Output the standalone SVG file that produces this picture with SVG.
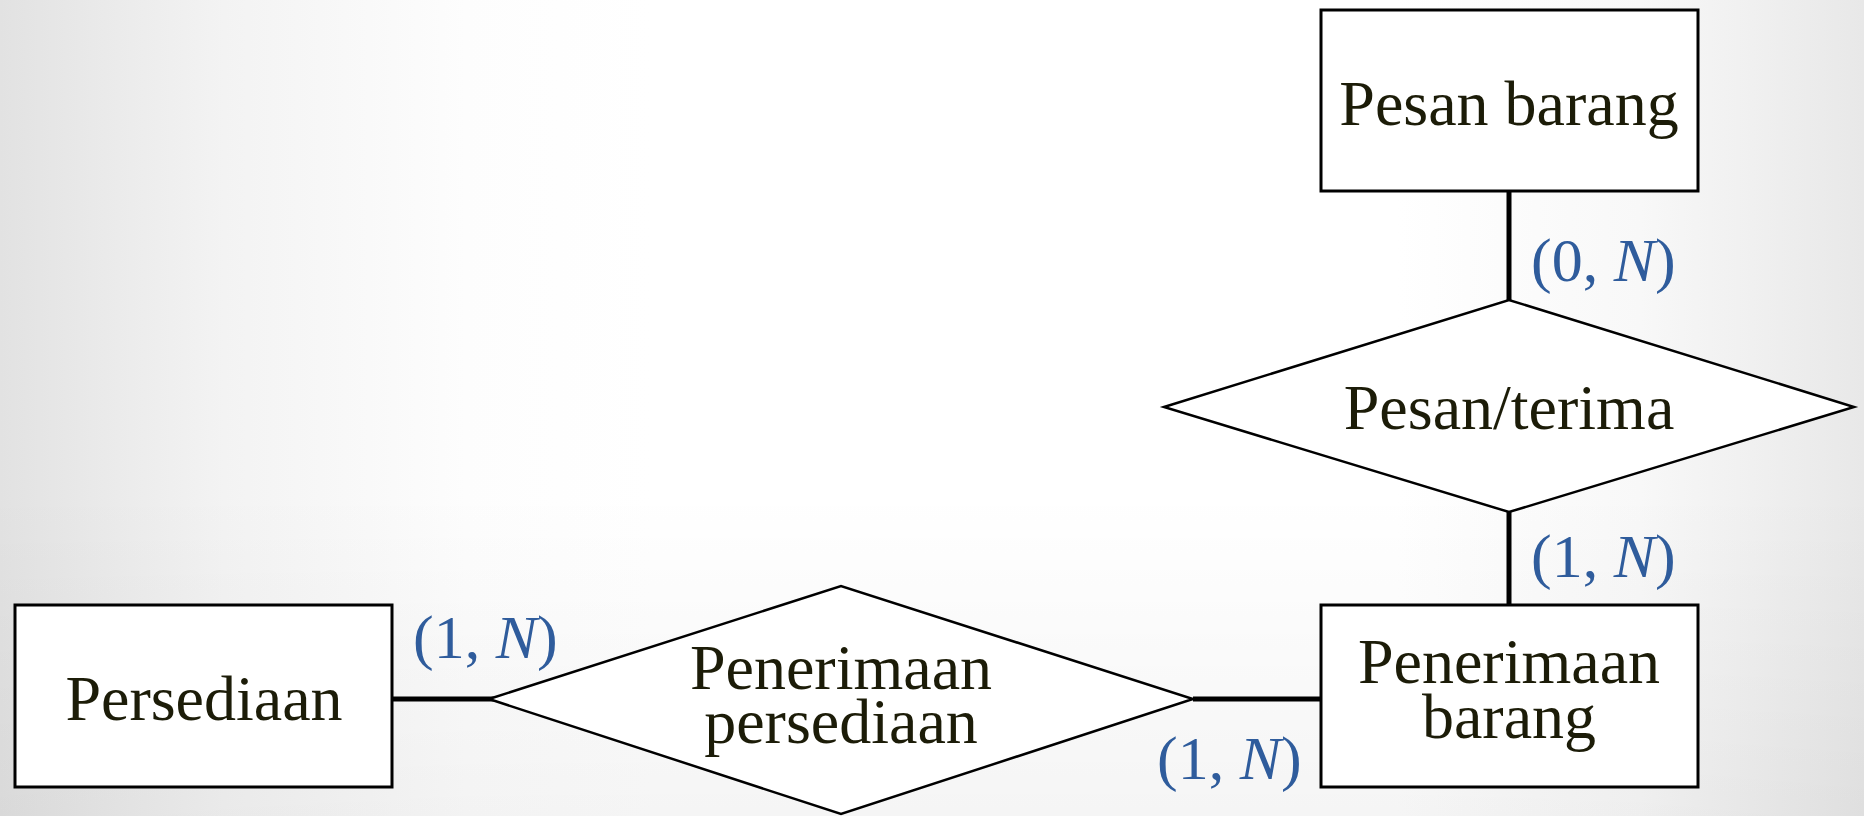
<svg xmlns="http://www.w3.org/2000/svg" width="1864" height="816" viewBox="0 0 1864 816">
<style>
.box{fill:#fff;stroke:#000;stroke-width:3}
.dia{fill:#fff;stroke:#000;stroke-width:2.5}
.lbl{font-family:"Liberation Serif","Times New Roman",serif;font-size:64px;fill:#1c1c08;text-anchor:middle}
.card{font-family:"Liberation Serif","Times New Roman",serif;font-size:62px;fill:#2f5c9c}
.conn{stroke:#000;stroke-width:5;fill:none}
</style>
<defs>
<linearGradient id="bgx" x1="0" y1="0" x2="1" y2="0">
<stop offset="0" stop-color="#e2e2e2"/>
<stop offset="0.12" stop-color="#f3f3f3"/>
<stop offset="0.25" stop-color="#fdfdfd"/>
<stop offset="0.35" stop-color="#ffffff"/>
<stop offset="0.75" stop-color="#ffffff"/>
<stop offset="0.88" stop-color="#f8f8f8"/>
<stop offset="1" stop-color="#e8e8e8"/>
</linearGradient>
<linearGradient id="bgy" x1="0" y1="0" x2="0" y2="1">
<stop offset="0.6" stop-color="#000" stop-opacity="0"/>
<stop offset="1" stop-color="#000" stop-opacity="0.04"/>
</linearGradient>
</defs>
<rect x="0" y="0" width="1864" height="816" fill="url(#bgx)"/>
<rect x="0" y="0" width="1864" height="816" fill="url(#bgy)"/>
<g id="connectors">
<line class="conn" x1="1509" y1="191" x2="1509" y2="300"/>
<line class="conn" x1="1509" y1="512" x2="1509" y2="605"/>
<line class="conn" x1="392" y1="699" x2="502" y2="699"/>
<line class="conn" x1="1193" y1="699" x2="1321" y2="699"/>
</g>
<g id="pesan-barang">
<rect class="box" x="1321" y="10" width="377" height="181"/>
<text class="lbl" x="1509" y="125">Pesan barang</text>
</g>
<g id="pesan-terima">
<polygon class="dia" points="1164,407 1509,300 1854,407 1509,512"/>
<text class="lbl" x="1509" y="429">Pesan/terima</text>
</g>
<g id="penerimaan-barang">
<rect class="box" x="1321" y="605" width="377" height="182"/>
<text class="lbl" x="1509" y="683">Penerimaan</text>
<text class="lbl" x="1509" y="738">barang</text>
</g>
<g id="persediaan">
<rect class="box" x="15" y="605" width="377" height="182"/>
<text class="lbl" x="204" y="720">Persediaan</text>
</g>
<g id="penerimaan-persediaan">
<polygon class="dia" points="489,699 841,586 1193,699 841,814"/>
<text class="lbl" x="841" y="689">Penerimaan</text>
<text class="lbl" x="841" y="743">persediaan</text>
</g>
<g id="cardinalities">
<text class="card" x="1531" y="281">(0, <tspan font-style="italic">N</tspan>)</text>
<text class="card" x="1531" y="577">(1, <tspan font-style="italic">N</tspan>)</text>
<text class="card" x="413" y="658">(1, <tspan font-style="italic">N</tspan>)</text>
<text class="card" x="1157" y="779">(1, <tspan font-style="italic">N</tspan>)</text>
</g>
</svg>
